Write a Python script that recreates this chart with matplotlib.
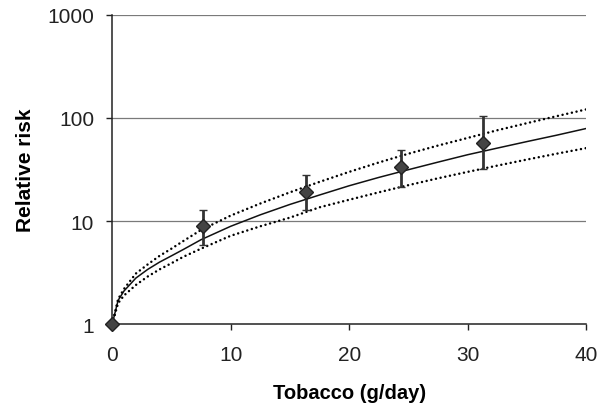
import matplotlib
matplotlib.use("Agg")
import matplotlib.pyplot as plt

plt.rcParams['font.family'] = ['Liberation Sans', 'DejaVu Sans']

# Observed relative risks with 95% CI
tobacco = [0, 7.65, 16.4, 24.4, 31.3]
rr = [1, 8.9, 19.0, 33.2, 57.0]
ci_low = [1, 5.8, 12.8, 21.5, 32.0]
ci_high = [1, 12.9, 28.2, 49.0, 105.0]

# Fitted curve and confidence bounds
curve_x = [0, 0.5, 1, 2, 3, 4, 5, 6, 7.5, 10, 12.5, 15, 17.5, 20, 22.5, 25,
           27.5, 30, 32.5, 35, 37.5, 40]
fit = [1, 1.7, 2.1, 2.8, 3.4, 4.0, 4.6, 5.3, 6.6, 8.9, 11.5, 14.5, 17.9, 22,
       26.5, 31.5, 37.3, 44, 51, 59, 68, 79]
upper = [1, 1.75, 2.2, 3.1, 3.8, 4.6, 5.4, 6.4, 8.2, 11.3, 14.8, 19.0, 24,
         30, 37, 45, 54, 64, 76, 89, 104, 121]
lower = [1, 1.6, 1.9, 2.4, 2.9, 3.4, 3.9, 4.5, 5.4, 7.2, 8.9, 10.8, 13.6,
         16.1, 19, 22.3, 26, 30, 34.5, 39.5, 45, 51]

x_ticks = [0, 10, 20, 30, 40]
y_ticks = [1, 10, 100, 1000]
y_tick_labels = ['1', '10', '100', '1000']

fig = plt.figure(figsize=(6.03, 4.06), dpi=100)
ax = fig.add_axes([0.186, 0.199, 0.786, 0.762])

ax.set_yscale('log')
ax.set_xlim(0, 40)
ax.set_ylim(1, 1000)

for v in [10, 100, 1000]:
    ax.axhline(v, color='#7a7a7a', lw=0.9, zorder=1)

ax.plot(curve_x, fit, color='#111111', lw=1.1, zorder=3)
ax.plot(curve_x, upper, color='#000000', lw=1.8, linestyle=(0, (0.01, 1.9)),
        dash_capstyle='round', zorder=3)
ax.plot(curve_x, lower, color='#000000', lw=1.8, linestyle=(0, (0.01, 1.9)),
        dash_capstyle='round', zorder=3)

yerr = [[r - lo for r, lo in zip(rr, ci_low)], [hi - r for r, hi in zip(rr, ci_high)]]
ax.errorbar(tobacco, rr, yerr=yerr, fmt='D', color='#333333', ecolor='#333333',
            elinewidth=2.0, capsize=2.6, capthick=1.7, markersize=7,
            markerfacecolor='#444444', markeredgecolor='#222222',
            markeredgewidth=1.0, zorder=4, clip_on=False)

ax.set_xticks(x_ticks)
ax.set_xticklabels([str(t) for t in x_ticks])
ax.set_yticks(y_ticks)
ax.set_yticklabels(y_tick_labels)
ax.yaxis.set_minor_locator(matplotlib.ticker.NullLocator())

ax.tick_params(axis='both', direction='out', length=4, width=1.0,
               colors='#222222', labelsize=15)
ax.tick_params(axis='x', pad=11)
ax.tick_params(axis='y', pad=9)

for s in ['top', 'right']:
    ax.spines[s].set_visible(False)
for s in ['left', 'bottom']:
    ax.spines[s].set_color('#222222')
    ax.spines[s].set_linewidth(1.1)

ax.set_xlabel('Tobacco (g/day)', fontsize=14.5, fontweight='bold')
ax.set_ylabel('Relative risk', fontsize=15, fontweight='bold')
ax.xaxis.set_label_coords((349 - 112) / 474, -(393 - 325) / 309.4)
ax.xaxis.label.set_va('center')
ax.yaxis.set_label_coords(-(112 - 25) / 474, 0.5)
ax.yaxis.label.set_va('center')

fig.savefig('out.png', dpi=100)
